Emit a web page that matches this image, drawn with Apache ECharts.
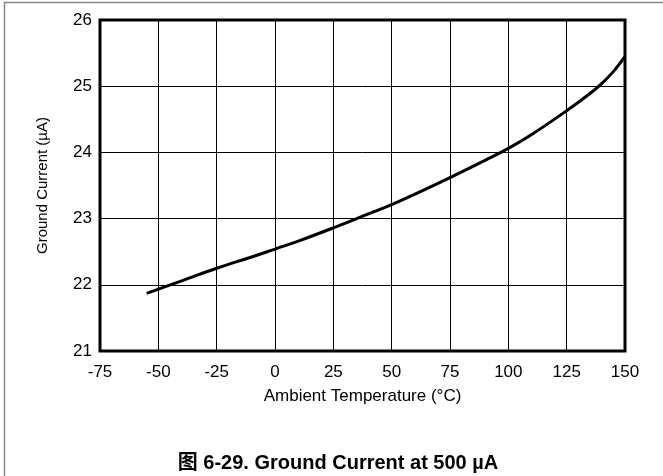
<!DOCTYPE html>
<html><head><meta charset="utf-8">
<script src="https://cdn.jsdelivr.net/npm/echarts@6/dist/echarts.min.js"></script>
<style>html,body{margin:0;padding:0;background:#fff}#c{width:663px;height:476px}</style>
</head><body><div id="c"></div>
<script>
var temps = [-55,-40,-25,-10,0,10,25,40,50,60,75,90,100,110,125,135,140,145,150];
var current = [21.87,22.06,22.25,22.42,22.54,22.66,22.86,23.07,23.21,23.37,23.62,23.88,24.06,24.27,24.63,24.89,25.04,25.22,25.45];
var xTicks = [-75,-50,-25,0,25,50,75,100,125,150];
var yTicks = [21,22,23,24,25,26];
var chart = echarts.init(document.getElementById('c'));
var font = 'Liberation Sans, Arial, sans-serif';
chart.setOption({
  animation:false,
  backgroundColor:'#fff',
  title:{text:'图 6-29. Ground Current at 500 µA', left:333, textAlign:'center', top:448,
    textStyle:{fontFamily:'Liberation Sans, Noto Sans CJK SC, sans-serif', fontWeight:'bold', fontSize:20, color:'#000'}},
  graphic:[
    {type:'line', shape:{x1:4.5,y1:2,x2:4.5,y2:476}, style:{stroke:'#888',lineWidth:1.5}},
    {type:'line', shape:{x1:4,y1:2.5,x2:663,y2:2.5}, style:{stroke:'#888',lineWidth:1.5}}
  ],
  grid:{left:100,right:38,top:20,bottom:125,show:true,borderColor:'#000',borderWidth:3},
  xAxis:{type:'value',min:-75,max:150,interval:25,
    name:'Ambient Temperature (°C)',nameLocation:'middle',nameGap:37,
    nameTextStyle:{fontFamily:font,fontSize:17,color:'#000'},
    axisLine:{show:false},axisTick:{show:false},
    axisLabel:{fontFamily:font,fontSize:17,color:'#000',margin:13,
      formatter:function(v){return xTicks.indexOf(v)>=0?String(v):'';}},
    splitLine:{show:true,lineStyle:{color:'#000',width:1}}},
  yAxis:{type:'value',min:21,max:26,interval:1,
    name:'Ground Current (µA)',nameLocation:'middle',nameGap:50,
    nameTextStyle:{fontFamily:font,fontSize:15,color:'#000'},
    axisLine:{show:false},axisTick:{show:false},
    axisLabel:{fontFamily:font,fontSize:17,color:'#000',margin:8,
      formatter:function(v){return yTicks.indexOf(v)>=0?String(v):'';}},
    splitLine:{show:true,lineStyle:{color:'#000',width:1}}},
  series:[{type:'line',smooth:0.4,showSymbol:false,
    data:temps.map(function(t,i){return [t,current[i]];}),
    lineStyle:{color:'#000',width:3}}]
});
</script></body></html>
